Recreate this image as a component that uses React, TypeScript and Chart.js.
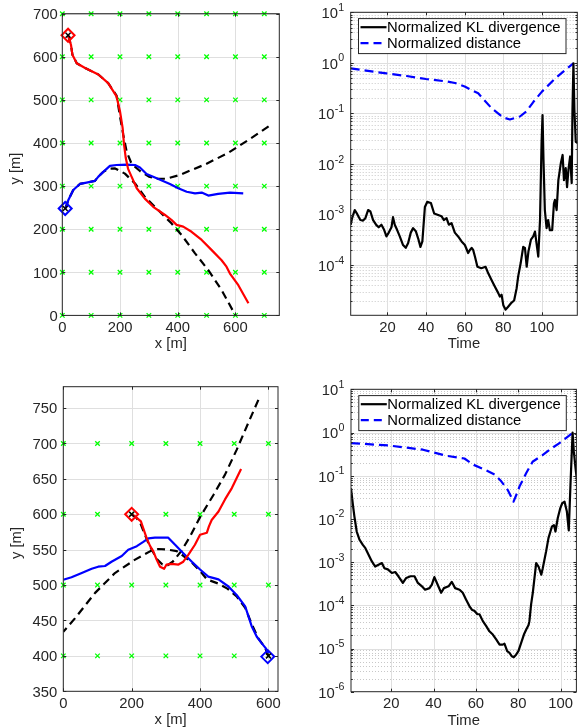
import React, { useEffect, useRef } from "react";
import { Chart, registerables } from "chart.js";

Chart.register(...registerables);

const W = 584;
const H = 727;
const FONT = '"Liberation Sans", Arial, Helvetica, sans-serif';
const FS = 14.8;
const TXT = "#262626";
const MAJOR_GRID = "#dfdfdf";
const MINOR_GRID = "#c8c8c8";
const LW = 2.2;

// ---------------- data: top-left trajectories ----------------
const tlSensorX = [0, 100, 200, 300, 400, 500, 600, 700];
const tlSensorY = [0, 100, 200, 300, 400, 500, 600, 700];
const tlRedX = [20, 30, 35, 50, 79, 125, 159, 188, 200, 209, 214, 220, 228, 240, 258, 286, 315, 356, 379, 396, 419, 448, 483, 517, 552, 569, 581, 610, 645];
const tlRedY = [650, 628, 605, 585, 574, 559, 539, 508, 473, 435, 396, 365, 340, 322, 295, 271, 252, 233, 221, 210, 206, 194, 175, 152, 128, 113, 97, 70, 28];
const tlBlueX = [12, 21, 38, 61, 84, 113, 125, 142, 165, 188, 223, 252, 269, 292, 321, 373, 402, 431, 460, 483, 506, 540, 581, 627];
const tlBlueY = [248, 268, 291, 305, 308, 312, 322, 333, 347, 349, 350, 349, 343, 328, 320, 305, 295, 287, 283, 285, 278, 282, 285, 283];
const tlTrueAX = [20, 30, 35, 50, 79, 125, 159, 188, 202, 211, 223, 240, 269, 300, 330, 360, 408, 450, 494, 575, 656, 720];
const tlTrueAY = [650, 628, 605, 585, 574, 559, 539, 510, 454, 420, 380, 352, 335, 322, 317, 317, 326, 338, 350, 377, 412, 441];
const tlTrueBX = [10, 21, 38, 61, 84, 113, 125, 142, 160, 183, 217, 252, 286, 333, 379, 414, 460, 506, 552, 600];
const tlTrueBY = [248, 268, 291, 305, 308, 312, 322, 333, 340, 341, 329, 306, 275, 244, 213, 186, 144, 105, 59, 0];
const tlStartRed = [20, 650];
const tlStartBlue = [10, 248];

// ---------------- data: bottom-left trajectories ----------------
const blSensorX = [0, 100, 200, 300, 400, 500, 600];
const blSensorY = [400, 500, 600, 700];
const blRedX = [200, 215, 227, 234, 244, 254, 263, 273, 283, 295, 302, 317, 337, 351, 366, 385, 400, 420, 426, 434, 454, 473, 493, 520];
const blRedY = [600, 595, 590, 580, 566, 555, 548, 536, 526, 523, 529, 530, 529, 533, 543, 557, 571, 574, 583, 592, 604, 621, 637, 664];
const blBlueX = [600, 592, 580, 566, 551, 532, 507, 483, 454, 424, 400, 376, 351, 327, 307, 268, 249, 234, 215, 190, 171, 141, 122, 102, 83, 54, 24, 0];
const blBlueY = [404, 411, 418, 427, 442, 470, 486, 498, 508, 512, 522, 533, 545, 557, 567, 567, 566, 561, 555, 550, 541, 533, 527, 526, 523, 517, 511, 507.5];
const blTrueAX = [600, 590, 570, 551, 532, 507, 480, 454, 420, 400, 376, 346, 332, 307, 278, 259, 210, 151, 93, 34, 0];
const blTrueAY = [400, 412, 425, 445, 468, 484, 495, 502, 508, 520, 532, 543, 548, 550, 551, 549, 536, 517, 489, 453, 434];
const blTrueBX = [200, 212, 225, 238, 250, 262, 275, 290, 305, 320, 345, 370, 400, 440, 473, 507, 541, 571];
const blTrueBY = [600, 596, 588, 572, 558, 547, 536, 529, 528, 533, 548, 568, 596, 628, 656, 691, 729, 762];
const blStartRed = [200, 600];
const blStartBlue = [598, 399];

// ---------------- data: top-right KL / distance ----------------
const trKlT = [1, 1.7, 3.1, 4.4, 6, 7.4, 8.6, 10, 11.2, 12.6, 14.3, 15.5, 16.9, 18.3, 19.5, 20.7, 22.1, 22.9, 23.8, 25, 26.4, 28.1, 29.5, 30.7, 32.1, 33.3, 34.7, 35.9, 37.1, 38.1, 39.4, 40.6, 42.5, 44.2, 46.3, 48, 49.2, 50.6, 51.8, 53.2, 54.9, 56.6, 58.4, 60.1, 61.8, 62.7, 63.6, 64.4, 65.3, 66.6, 68.6, 70.8, 72.2, 73.9, 75.6, 77.4, 78.2, 79.1, 80, 81.2, 82.5, 84.3, 85.6, 86.9, 87.7, 89, 90.3, 91.2, 92.1, 93, 94.3, 95.5, 96.4, 97.2, 98.1, 99, 99.8, 100.3, 100.8, 101.5, 102.4, 103.2, 104.1, 105.3, 106.2, 106.7, 107.6, 108.5, 109.8, 110.7, 111.4, 112.3, 113, 113.7, 114.6, 115.4, 115.8, 116.3, 116.8, 117.5, 118.5];
const trKl = [6.3e-4, 8.5e-4, 1.23e-3, 1.02e-3, 7.8e-4, 7.6e-4, 8.5e-4, 1.23e-3, 1.15e-3, 7.8e-4, 6.2e-4, 5.6e-4, 6.3e-4, 5.0e-4, 3.7e-4, 4.4e-4, 5.6e-4, 8.9e-4, 6.3e-4, 5.0e-4, 3.7e-4, 2.5e-4, 2.2e-4, 2.7e-4, 4.4e-4, 5.4e-4, 4.7e-4, 3.4e-4, 2.3e-4, 2.95e-4, 1.41e-3, 1.78e-3, 1.7e-3, 1.05e-3, 9.8e-4, 9.3e-4, 7.8e-4, 8.5e-4, 6.3e-4, 6.8e-4, 4.4e-4, 3.7e-4, 2.95e-4, 2.5e-4, 1.74e-4, 2.0e-4, 2.2e-4, 2.0e-4, 1.48e-4, 9.3e-5, 8.7e-5, 9.3e-5, 6.9e-5, 5.1e-5, 3.8e-5, 2.8e-5, 2.4e-5, 2.6e-5, 1.62e-5, 1.32e-5, 1.51e-5, 1.82e-5, 2.0e-5, 3.5e-5, 6.0e-5, 1.1e-4, 2.3e-4, 2.2e-4, 9.3e-5, 1.86e-4, 3.2e-4, 3.7e-4, 4.6e-4, 2.7e-4, 1.48e-4, 7.8e-4, 2.6e-2, 9.3e-2, 1.2e-2, 1.23e-3, 5.4e-4, 7.8e-4, 4.9e-4, 4.9e-4, 1.66e-3, 1.95e-3, 1.23e-3, 4.8e-3, 1.05e-2, 1.51e-2, 4.8e-3, 8.3e-3, 3.5e-3, 7.6e-3, 1.41e-2, 4.2e-3, 1.17e-1, 0.98, 1.17e-1, 2.75e-2, 2.6e-2];
const trDistT = [1, 9, 19.5, 30, 40, 50.6, 55, 60, 67, 74, 80, 83.4, 88.6, 92, 95.6, 100, 106.8, 112, 116.3];
const trDist = [0.78, 0.7, 0.62, 0.55, 0.48, 0.43, 0.4, 0.34, 0.25, 0.126, 0.083, 0.076, 0.087, 0.11, 0.17, 0.27, 0.49, 0.72, 0.98];

// ---------------- data: bottom-right KL / distance ----------------
const brKlT = [1, 1.9, 2.6, 3.7, 5, 6.6, 7.8, 9.3, 10.8, 12.4, 14, 15.6, 16.8, 18.4, 20.3, 21.9, 23.4, 25.5, 27.1, 29.1, 31, 32.6, 34.5, 36, 38.1, 39.2, 40.4, 41.7, 43.6, 44.9, 47.1, 48.6, 50.2, 52.3, 53.8, 55.4, 57, 58.1, 59.4, 60.6, 61.7, 63.3, 64.9, 66.4, 68, 69.6, 71.2, 72.7, 73.5, 74.8, 75.9, 77, 77.9, 79, 80.1, 81.4, 82.7, 83.8, 84.9, 85.3, 86.1, 86.9, 87.7, 88.5, 89.6, 90.9, 91.6, 93.2, 94.3, 95.9, 96.9, 97.6, 98.7, 99.9, 100.8, 101.9, 103, 103.9, 104.7, 105.7, 106.3, 107.1, 107.9];
const brKl = [5.1e-2, 2.1e-2, 1.15e-2, 5.1e-3, 3.3e-3, 2.5e-3, 2.1e-3, 1.48e-3, 1.05e-3, 7.9e-4, 8.7e-4, 9.5e-4, 7.2e-4, 6.8e-4, 5.6e-4, 5.9e-4, 4.7e-4, 3.3e-4, 4.3e-4, 4.7e-4, 4.7e-4, 3.3e-4, 2.75e-4, 2.3e-4, 2.5e-4, 3.0e-4, 4.5e-4, 3.2e-4, 1.95e-4, 2.5e-4, 2.75e-4, 3.5e-4, 2.5e-4, 2.3e-4, 1.95e-4, 1.35e-4, 9.5e-5, 7.9e-5, 7.4e-5, 6.3e-5, 6.2e-5, 4.3e-5, 3.3e-5, 2.5e-5, 2.1e-5, 1.62e-5, 1.23e-5, 1.23e-5, 1.29e-5, 8.7e-6, 7.9e-6, 6.6e-6, 6.3e-6, 7.2e-6, 8.7e-6, 1.35e-5, 2.1e-5, 2.75e-5, 3.5e-5, 4.3e-5, 1.05e-4, 1.95e-4, 4.3e-4, 9.5e-4, 7.9e-4, 5.1e-4, 7.2e-4, 1.78e-3, 3.6e-3, 6.6e-3, 7.2e-3, 5.1e-3, 1.05e-2, 1.78e-2, 2.3e-2, 2.5e-2, 1.48e-2, 5.4e-3, 6.2e-2, 1.0, 0.36, 0.148, 0.068];
const brDistT = [1, 19, 35, 46, 54.6, 59, 64, 69, 72, 75, 77.8, 79.5, 80.6, 83.8, 86.8, 91.5, 94.8, 99.5, 102.7, 106];
const brDist = [0.57, 0.5, 0.4, 0.29, 0.25, 0.178, 0.14, 0.105, 0.074, 0.047, 0.025, 0.04, 0.056, 0.115, 0.21, 0.3, 0.4, 0.57, 0.75, 1.0];

// ---------------- ticks ----------------
const tlXTicks = [0, 200, 400, 600];
const tlYTicks = [0, 100, 200, 300, 400, 500, 600, 700];
const blXTicks = [0, 200, 400, 600];
const blYTicks = [350, 400, 450, 500, 550, 600, 650, 700, 750];
const timeTicks = [20, 40, 60, 80, 100];
const trYExp = [1, 0, -1, -2, -3, -4];
const brYExp = [1, 0, -1, -2, -3, -4, -5, -6];
const legendLabels = ["Normalized KL divergence", "Normalized distance"];

// ---------------- helpers ----------------
type Area = { l: number; t: number; r: number; b: number };
type Spec = {
  xTicks: number[];
  yTicks: number[];
  yExp: number[] | null;
  yMinor: number[];
  xTitle: string;
  yTitle: string;
  legend: boolean;
  yLabelDx: number;
};

const pts = (xs: number[], ys: number[]) => xs.map((x, i) => ({ x, y: ys[i] }));
const gridPts = (gx: number[], gy: number[]) => gy.flatMap((y) => gx.map((x) => ({ x, y })));
const minorDecades = (exps: number[], lo: number, hi: number) => {
  const out: number[] = [];
  exps.forEach((e) => {
    for (let k = 2; k <= 9; k++) {
      const v = k * Math.pow(10, e);
      if (v > lo && v < hi) out.push(v);
    }
  });
  return out;
};

function lineDs(data: any[], color: string, dash: number[] = []) {
  return {
    data,
    showLine: true,
    borderColor: color,
    borderWidth: LW,
    borderDash: dash,
    borderJoinStyle: "round",
    pointRadius: 0,
    pointHoverRadius: 0,
    fill: false,
    tension: 0,
  };
}
function markerDs(data: any[], color: string, style: string, r: number, bw: number) {
  return {
    data,
    showLine: false,
    pointStyle: style,
    pointRadius: r,
    pointHoverRadius: r,
    pointBorderColor: color,
    pointBackgroundColor: "rgba(0,0,0,0)",
    pointBorderWidth: bw,
    borderColor: color,
    backgroundColor: "rgba(0,0,0,0)",
    clip: false,
  };
}

function framePlugin(spec: Spec) {
  return {
    id: "frame",
    beforeDatasetsDraw(chart: any) {
      const { ctx, chartArea: a } = chart;
      const xs = chart.scales.x;
      const ys = chart.scales.y;
      ctx.save();
      ctx.beginPath();
      ctx.rect(a.left, a.top, a.right - a.left, a.bottom - a.top);
      ctx.clip();
      ctx.lineWidth = 1;
      ctx.strokeStyle = MINOR_GRID;
      ctx.setLineDash([1, 2]);
      spec.yMinor.forEach((v) => {
        const p = Math.round(ys.getPixelForValue(v)) + 0.5;
        ctx.beginPath();
        ctx.moveTo(a.left, p);
        ctx.lineTo(a.right, p);
        ctx.stroke();
      });
      ctx.setLineDash([]);
      ctx.strokeStyle = MAJOR_GRID;
      spec.xTicks.forEach((v) => {
        const p = Math.round(xs.getPixelForValue(v)) + 0.5;
        ctx.beginPath();
        ctx.moveTo(p, a.top);
        ctx.lineTo(p, a.bottom);
        ctx.stroke();
      });
      spec.yTicks.forEach((v) => {
        const p = Math.round(ys.getPixelForValue(v)) + 0.5;
        ctx.beginPath();
        ctx.moveTo(a.left, p);
        ctx.lineTo(a.right, p);
        ctx.stroke();
      });
      ctx.restore();
    },
    afterDraw(chart: any) {
      const { ctx, chartArea: a } = chart;
      const xs = chart.scales.x;
      const ys = chart.scales.y;
      ctx.save();
      // legend
      if (spec.legend) {
        const L = a.left + 7.8;
        const T = a.top + 6.3;
        const BW = 207.5;
        const BH = 35;
        ctx.fillStyle = "#ffffff";
        ctx.fillRect(L, T, BW, BH);
        ctx.strokeStyle = TXT;
        ctx.lineWidth = 1;
        ctx.strokeRect(L, T, BW, BH);
        const rows = [
          { text: legendLabels[0], color: "#000000", dash: [] as number[], cy: T + 8.6 },
          { text: legendLabels[1], color: "#0000ff", dash: [8, 5], cy: T + 24.6 },
        ];
        rows.forEach((row) => {
          ctx.strokeStyle = row.color;
          ctx.lineWidth = LW;
          ctx.setLineDash(row.dash);
          ctx.beginPath();
          ctx.moveTo(L + 2, row.cy);
          ctx.lineTo(L + 28, row.cy);
          ctx.stroke();
          ctx.setLineDash([]);
          ctx.fillStyle = "#000000";
          ctx.font = `${FS}px ${FONT}`;
          ctx.textAlign = "left";
          ctx.textBaseline = "alphabetic";
          ctx.fillText(row.text, L + 28.5, row.cy + 5.2);
        });
      }
      // box
      ctx.strokeStyle = TXT;
      ctx.lineWidth = 1;
      ctx.setLineDash([]);
      ctx.strokeRect(a.left, a.top, a.right - a.left, a.bottom - a.top);
      // tick marks
      const tk = 3;
      ctx.beginPath();
      spec.xTicks.forEach((v) => {
        const p = Math.round(xs.getPixelForValue(v)) + 0.5;
        ctx.moveTo(p, a.bottom);
        ctx.lineTo(p, a.bottom - tk);
        ctx.moveTo(p, a.top);
        ctx.lineTo(p, a.top + tk);
      });
      spec.yTicks.forEach((v) => {
        const p = Math.round(ys.getPixelForValue(v)) + 0.5;
        ctx.moveTo(a.left, p);
        ctx.lineTo(a.left + tk, p);
        ctx.moveTo(a.right, p);
        ctx.lineTo(a.right - tk, p);
      });
      spec.yMinor.forEach((v) => {
        const p = Math.round(ys.getPixelForValue(v)) + 0.5;
        ctx.moveTo(a.left, p);
        ctx.lineTo(a.left + 1.8, p);
        ctx.moveTo(a.right, p);
        ctx.lineTo(a.right - 1.8, p);
      });
      ctx.stroke();
      // tick labels
      ctx.fillStyle = TXT;
      ctx.font = `${FS}px ${FONT}`;
      ctx.textBaseline = "alphabetic";
      ctx.textAlign = "center";
      spec.xTicks.forEach((v) => {
        ctx.fillText(String(v), xs.getPixelForValue(v), a.bottom + 16.4);
      });
      if (spec.yExp) {
        spec.yTicks.forEach((v, i) => {
          const p = ys.getPixelForValue(v);
          const ex = String(spec.yExp![i]);
          ctx.font = `${FS * 0.72}px ${FONT}`;
          const ew = ctx.measureText(ex).width;
          const right = a.left - spec.yLabelDx;
          ctx.textAlign = "left";
          ctx.fillText(ex, right - ew, p - 1.5);
          ctx.font = `${FS}px ${FONT}`;
          ctx.textAlign = "right";
          ctx.fillText("10", right - ew - 0.3, p + 5.8);
        });
      } else {
        ctx.textAlign = "right";
        spec.yTicks.forEach((v) => {
          ctx.fillText(String(v), a.left - spec.yLabelDx, ys.getPixelForValue(v) + 5.2);
        });
      }
      // titles
      ctx.font = `${FS}px ${FONT}`;
      ctx.textAlign = "center";
      ctx.fillText(spec.xTitle, (a.left + a.right) / 2, a.bottom + 33);
      if (spec.yTitle) {
        ctx.translate(a.left - 42, (a.top + a.bottom) / 2 + 4);
        ctx.rotate(-Math.PI / 2);
        ctx.fillText(spec.yTitle, 0, 0);
      }
      ctx.restore();
    },
  };
}

function makeConfig(area: Area, xRange: number[], yRange: number[], yLog: boolean, datasets: any[], spec: Spec) {
  return {
    type: "scatter",
    data: { datasets },
    options: {
      animation: false,
      responsive: false,
      maintainAspectRatio: false,
      devicePixelRatio: 1,
      events: [],
      layout: { padding: { left: area.l, top: area.t, right: W - area.r, bottom: H - area.b } },
      plugins: { legend: { display: false }, tooltip: { enabled: false } },
      scales: {
        x: { type: "linear", display: false, min: xRange[0], max: xRange[1] },
        y: { type: yLog ? "logarithmic" : "linear", display: false, min: yRange[0], max: yRange[1] },
      },
    },
    plugins: [framePlugin(spec)],
  };
}

function trajectoryDatasets(
  sx: number[], sy: number[],
  rx: number[], ry: number[], bx: number[], by: number[],
  ax: number[], ay: number[], cx: number[], cy: number[],
  startR: number[], startB: number[], trueR: number[], trueB: number[]
) {
  const starts = [{ x: trueR[0], y: trueR[1] }, { x: trueB[0], y: trueB[1] }];
  return [
    markerDs(starts, "#000000", "crossRot", 3.5, 1.5),
    markerDs([{ x: startR[0], y: startR[1] }], "#ff0000", "rectRot", 6.5, 2),
    markerDs([{ x: startB[0], y: startB[1] }], "#0000ff", "rectRot", 6.5, 2),
    lineDs(pts(rx, ry), "#ff0000"),
    lineDs(pts(bx, by), "#0000ff"),
    lineDs(pts(ax, ay), "#000000", [8, 5]),
    lineDs(pts(cx, cy), "#000000", [8, 5]),
    markerDs(gridPts(sx, sy), "#00ff00", "crossRot", 3.2, 1.3),
  ];
}

const configs = [
  () =>
    makeConfig(
      { l: 62.3, t: 13.7, r: 279.3, b: 315.4 },
      [0, 752],
      [0, 700],
      false,
      trajectoryDatasets(tlSensorX, tlSensorY, tlRedX, tlRedY, tlBlueX, tlBlueY, tlTrueAX, tlTrueAY, tlTrueBX, tlTrueBY, tlStartRed, tlStartBlue, [tlTrueAX[0], tlTrueAY[0]], [tlTrueBX[0], tlTrueBY[0]]),
      { xTicks: tlXTicks, yTicks: tlYTicks, yExp: null, yMinor: [], xTitle: "x [m]", yTitle: "y [m]", legend: false, yLabelDx: 4.5 }
    ),
  () =>
    makeConfig(
      { l: 350.7, t: 12.3, r: 577.3, b: 315.3 },
      [1, 118.3],
      [1.02e-5, 10],
      true,
      [lineDs(pts(trKlT, trKl), "#000000"), lineDs(pts(trDistT, trDist), "#0000ff", [9, 5])],
      { xTicks: timeTicks, yTicks: trYExp.map((e) => Math.pow(10, e)), yExp: trYExp, yMinor: minorDecades([-5, -4, -3, -2, -1, 0], 1.02e-5, 10), xTitle: "Time", yTitle: "", legend: true, yLabelDx: 6.5 }
    ),
  () =>
    makeConfig(
      { l: 63.3, t: 386.7, r: 278, b: 691.3 },
      [0, 628],
      [350, 780.2],
      false,
      trajectoryDatasets(blSensorX, blSensorY, blRedX, blRedY, blBlueX, blBlueY, blTrueAX, blTrueAY, blTrueBX, blTrueBY, blStartRed, blStartBlue, [blTrueBX[0], blTrueBY[0]], [blTrueAX[0], blTrueAY[0]]),
      { xTicks: blXTicks, yTicks: blYTicks, yExp: null, yMinor: [], xTitle: "x [m]", yTitle: "y [m]", legend: false, yLabelDx: 6 }
    ),
  () =>
    makeConfig(
      { l: 351, t: 389.3, r: 576.4, b: 691.7 },
      [1, 107.5],
      [1e-6, 10],
      true,
      [lineDs(pts(brKlT, brKl), "#000000"), lineDs(pts(brDistT, brDist), "#0000ff", [9, 5])],
      { xTicks: timeTicks, yTicks: brYExp.map((e) => Math.pow(10, e)), yExp: brYExp, yMinor: minorDecades([-6, -5, -4, -3, -2, -1, 0], 1e-6, 10), xTitle: "Time", yTitle: "", legend: true, yLabelDx: 6.5 }
    ),
];

function ChartLayer({ make }: { make: () => any }) {
  const ref = useRef<HTMLCanvasElement | null>(null);
  useEffect(() => {
    const chart = new Chart(ref.current as HTMLCanvasElement, make() as any);
    return () => chart.destroy();
  }, [make]);
  return (
    <canvas
      ref={ref}
      width={W}
      height={H}
      style={{ position: "absolute", left: 0, top: 0, width: W, height: H }}
    />
  );
}

export default function App() {
  return (
    <div style={{ position: "absolute", left: 0, top: 0, width: W, height: H, background: "#ffffff", overflow: "hidden" }}>
      {configs.map((make, i) => (
        <ChartLayer key={i} make={make} />
      ))}
    </div>
  );
}
